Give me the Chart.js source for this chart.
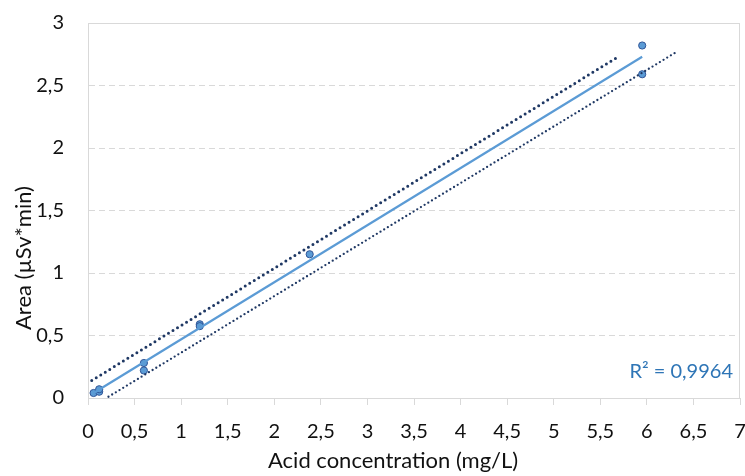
<!DOCTYPE html>
<html>
<head>
<meta charset="utf-8">
<script src="https://cdn.jsdelivr.net/npm/chart.js@4.4.1/dist/chart.umd.min.js"></script>
<style>
  html, body { margin: 0; padding: 0; background: #fff; }
  #wrap { width: 745px; height: 476px; }
</style>
</head>
<body>
<div id="wrap"><canvas id="chart"></canvas></div>
<script>
// ─── DATA ───────────────────────────────────────────────────────
const concX   = [0.06, 0.12, 0.12, 0.60, 0.60, 1.20, 1.20, 2.38, 5.95, 5.95];
const areaY   = [0.04, 0.05, 0.07, 0.28, 0.22, 0.59, 0.575, 1.15, 2.82, 2.59];
const fitX    = [0.06, 5.95];
const fitY    = [0.04, 2.73];
const upperX  = [0.04, 5.67];
const upperY  = [0.14, 2.72];
const lowerX  = [0.22, 6.30];
const lowerY  = [0.01, 2.76];
const xTicks  = [0, 0.5, 1, 1.5, 2, 2.5, 3, 3.5, 4, 4.5, 5, 5.5, 6, 6.5, 7];
const yTicks  = [0, 0.5, 1, 1.5, 2, 2.5, 3];
const xTitle  = "Acid concentration (mg/L)";
const yTitle  = "Area (µSv*min)";
const r2Label = "R² = 0,9964";

// ─── PALETA ─────────────────────────────────────────────────────
const C = {
  point:  "#5B9BD5",
  edge:   "#2F5597",
  fit:    "#5B9BD5",
  band:   "#1F3864",
  grid:   "#D9D9D9",
  text:   "#111111",
  r2:     "#2E75B6",
};
const FONT = "Lato, 'Open Sans', sans-serif";

const pts = (xs, ys) => xs.map((x, i) => ({ x, y: ys[i] }));
const comma = v => String(v).replace(".", ",");

// marco del área, títulos de ejes y etiqueta R²
const framePlugin = {
  id: "frame",
  beforeDatasetsDraw(chart) {
    const { ctx, chartArea: a } = chart;
    ctx.save();
    ctx.strokeStyle = C.grid;
    ctx.lineWidth = 1;
    ctx.strokeRect(a.left + 0.5, a.top + 0.5, a.right - a.left - 1, a.bottom - a.top);
    ctx.restore();
  },
  afterDatasetsDraw(chart) {
    const { ctx, chartArea: a, scales } = chart;
    ctx.save();
    ctx.font = "20px " + FONT;
    ctx.fillStyle = C.r2;
    ctx.textAlign = "right";
    ctx.textBaseline = "middle";
    ctx.fillText(r2Label, a.right - 7, scales.y.getPixelForValue(0.21));

    // títulos (colocados como en el original, no centrados)
    ctx.font = "22px " + FONT;
    ctx.fillStyle = C.text;
    ctx.textAlign = "left";
    ctx.textBaseline = "alphabetic";
    ctx.fillText(xTitle, 268, 468);

    ctx.translate(31, 330);
    ctx.rotate(-Math.PI / 2);
    ctx.fillText(yTitle, 0, 0);
    ctx.restore();
  },
};

new Chart(document.getElementById("chart"), {
  type: "scatter",
  data: {
    datasets: [
      {
        label: "upper",
        type: "line",
        data: pts(upperX, upperY),
        borderColor: C.band,
        borderWidth: 3,
        borderDash: [0, 5.3],
        borderCapStyle: "round",
        pointRadius: 0,
        fill: false,
      },
      {
        label: "lower",
        type: "line",
        data: pts(lowerX, lowerY),
        borderColor: C.band,
        borderWidth: 2.3,
        borderDash: [0, 4.3],
        borderCapStyle: "round",
        pointRadius: 0,
        fill: false,
      },
      {
        label: "fit",
        type: "line",
        data: pts(fitX, fitY),
        borderColor: C.fit,
        borderWidth: 2.2,
        pointRadius: 0,
        fill: false,
      },
      {
        label: "Area",
        data: pts(concX, areaY),
        backgroundColor: C.point,
        borderColor: C.edge,
        borderWidth: 1,
        pointRadius: 3.6,
      },
    ],
  },
  options: {
    responsive: true,
    maintainAspectRatio: false,
    animation: false,
    layout: { padding: { top: 23, right: 5, left: 0, bottom: 0 } },
    plugins: { legend: { display: false }, tooltip: { enabled: false } },
    scales: {
      x: {
        type: "linear",
        min: 0,
        max: 7,
        afterBuildTicks: s => { s.ticks = xTicks.map(v => ({ value: v })); },
        afterFit: s => { s.height = 78; s.paddingRight = 0; s.paddingLeft = 0; },
        grid: { drawOnChartArea: false, drawTicks: true, tickLength: 7, tickColor: C.grid },
        border: { color: C.grid },
        ticks: {
          color: C.text,
          padding: 15,
          maxRotation: 0,
          font: { family: FONT, size: 20 },
          callback: v => comma(v),
        },
      },
      y: {
        type: "linear",
        min: 0,
        max: 3,
        afterBuildTicks: s => { s.ticks = yTicks.map(v => ({ value: v })); },
        afterFit: s => { s.width = 88; s.paddingTop = 0; s.paddingBottom = 0; },
        grid: { color: C.grid, drawTicks: false },
        border: { color: C.grid, dash: [6, 4] },
        ticks: {
          color: C.text,
          padding: 24,
          font: { family: FONT, size: 20 },
          callback: v => comma(v),
        },
      },
    },
  },
  plugins: [framePlugin],
});
</script>
</body>
</html>
